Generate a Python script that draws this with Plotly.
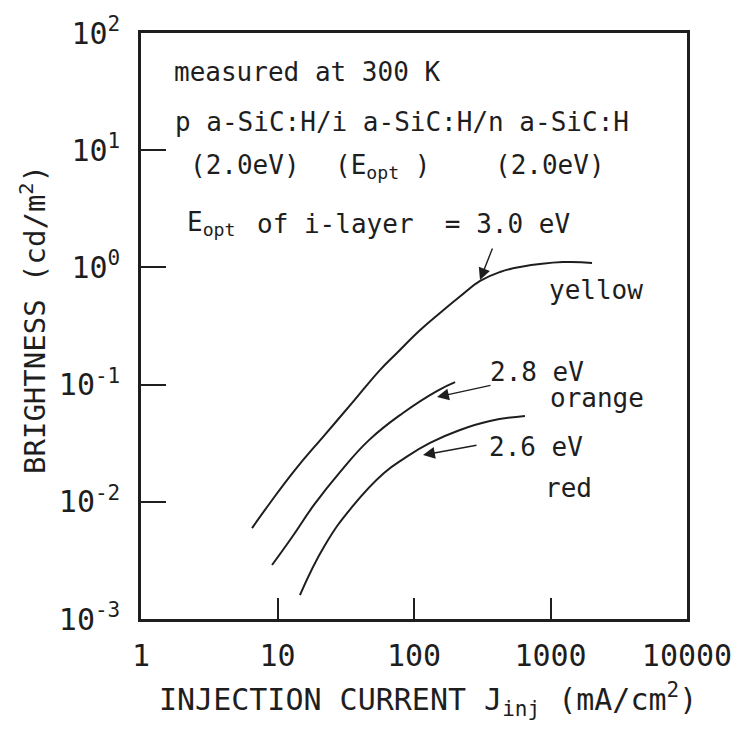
import plotly.graph_objects as go

# ---- data ----
yellow_x = [6.51, 8.81, 13.4, 21.5, 35.2, 56.3, 75.0, 111, 155, 217, 305, 427, 598, 1235, 2015]
yellow_y = [0.00597, 0.00977, 0.01866, 0.0357, 0.0697, 0.133, 0.186, 0.292, 0.408, 0.565,
            0.766, 0.914, 1.007, 1.11, 1.09]

orange_x = [9.12, 12.8, 18.5, 28.7, 46.8, 83.0, 147, 200]
orange_y = [0.00289, 0.00501, 0.0094, 0.0179, 0.0336, 0.0573, 0.0881, 0.105]

red_x = [14.6, 22.3, 35.2, 60.3, 85.9, 131, 217, 360, 650]
red_y = [0.0016, 0.00428, 0.00904, 0.0176, 0.0237, 0.0318, 0.0410, 0.0489, 0.054]

x_tickvals = [1, 10, 100, 1000, 10000]
x_ticktext = ["1", "10", "100", "1000", "10000"]
y_tickvals = [1e-3, 1e-2, 1e-1, 1e0, 1e1, 1e2]
y_ticktext = ["10<sup>-3</sup>", "10<sup>-2</sup>", "10<sup>-1</sup>",
              "10<sup>0</sup>", "10<sup>1</sup>", "10<sup>2</sup>"]

INK = "#1e1e1e"
FONT = "DejaVu Sans Mono"

OFF = 8  # page body margin offset
W, H = 743 - OFF, 740 - OFF
L, T = 141 - OFF, 33 - OFF
PW, PH = 546, 586
R, B = W - L - PW, H - T - PH


def px(x):
    return (x - 141) / PW


def py(y):
    return (619 - y) / PH


fig = go.Figure()
for xs, ys in [(yellow_x, yellow_y), (orange_x, orange_y), (red_x, red_y)]:
    fig.add_trace(go.Scatter(x=xs, y=ys, mode="lines",
                             line=dict(color=INK, width=2, shape="spline", smoothing=1.3),
                             showlegend=False, hoverinfo="skip"))

fig.update_layout(
    width=W, height=H,
    margin=dict(l=L, r=R, t=T, b=B, autoexpand=False),
    paper_bgcolor="white", plot_bgcolor="white",
    font=dict(family=FONT, color=INK),
)

fig.update_xaxes(type="log", range=[0, 4], tickvals=x_tickvals, ticktext=x_ticktext,
                 ticks="inside", ticklen=21, tickwidth=2, tickcolor=INK,
                 showline=True, linewidth=2.5, linecolor=INK, mirror=True,
                 showgrid=False, zeroline=False, automargin=False,
                 tickfont=dict(family=FONT, size=30, color=INK), ticklabelstandoff=8)
fig.update_yaxes(type="log", range=[-3, 2], tickvals=y_tickvals, ticktext=y_ticktext,
                 ticks="inside", ticklen=25, tickwidth=2, tickcolor=INK,
                 showline=True, linewidth=2.5, linecolor=INK, mirror=True,
                 showgrid=False, zeroline=False, automargin=False,
                 tickfont=dict(family=FONT, size=30, color=INK), ticklabelstandoff=12)

ann = []


def text(t, x, y, size=26, xanchor="left", yanchor="middle", angle=0):
    ann.append(dict(text=t, x=px(x), y=py(y), xref="paper", yref="paper",
                    xanchor=xanchor, yanchor=yanchor, showarrow=False,
                    textangle=angle, font=dict(family=FONT, size=size, color=INK)))


def arrow(tail, tip):
    ann.append(dict(text="", x=px(tip[0]), y=py(tip[1]), xref="paper", yref="paper",
                    ax=tail[0] - tip[0], ay=tail[1] - tip[1],
                    showarrow=True, arrowhead=2, arrowsize=1.7, arrowwidth=1.4,
                    arrowcolor=INK))


text("measured at 300 K", 172, 72)
text("p a-SiC:H/i a-SiC:H/n a-SiC:H", 173, 122)
text("(2.0eV)", 188, 165)
text("(E<sub>opt</sub> )", 333, 166)
text("(2.0eV)", 493, 165)
text("E<sub>opt</sub>", 185, 224)
text("of i-layer  = 3.0 eV", 255, 224)
text("yellow", 547, 290)
text("2.8 eV", 488, 372)
text("orange", 548, 398)
text("2.6 eV", 487, 447)
text("red", 543, 488)

arrow((493, 247), (480, 280))
arrow((492, 385), (437, 397))
arrow((478, 445), (423, 455))

text("INJECTION CURRENT J<sub>inj</sub> (mA/cm<sup>2</sup>)", 157, 699, size=30)
text("BRIGHTNESS (cd/m<sup>2</sup>)", 33, 320, size=29, xanchor="center", angle=-90)

fig.update_layout(annotations=ann)

fig.write_html("out.html")
